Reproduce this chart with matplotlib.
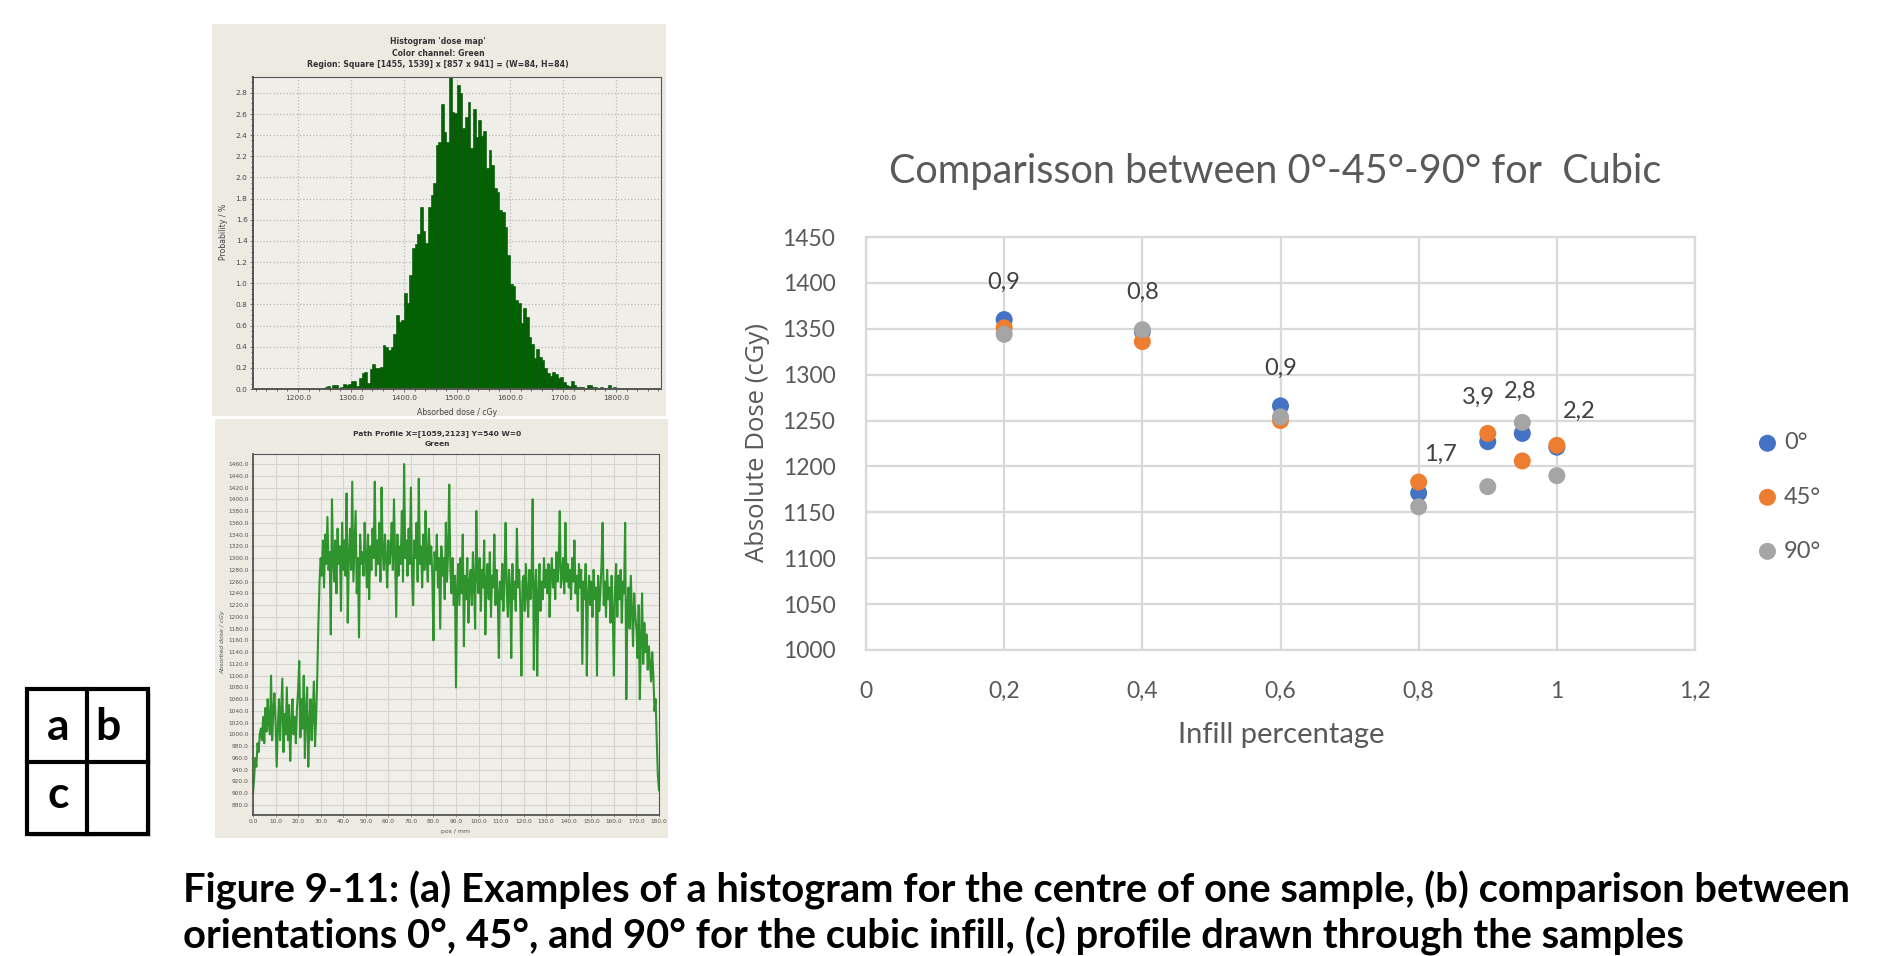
import numpy as np
import matplotlib
matplotlib.use("Agg")
import matplotlib.pyplot as plt
from matplotlib.patches import Rectangle
from matplotlib.lines import Line2D
from matplotlib.ticker import MultipleLocator, FuncFormatter

W, H = 1892, 956

# (a) histogram of the dose map, 5 cGy bins starting at 1240 cGy
hist_start = 1240
hist_bin = 5
hist_prob = [0.00, 0.01, 0.02, 0.03, 0.01, 0.04, 0.04, 0.01, 0.02, 0.05,
             0.04, 0.05, 0.08, 0.08, 0.03, 0.10, 0.15, 0.16, 0.06, 0.19,
             0.24, 0.20, 0.20, 0.21, 0.42, 0.40, 0.37, 0.40, 0.52, 0.70,
             0.63, 0.65, 0.91, 0.81, 1.08, 1.33, 1.37, 1.47, 1.72, 1.49,
             1.38, 1.72, 1.83, 1.95, 2.31, 2.34, 2.69, 2.43, 2.34, 2.96,
             2.62, 2.61, 2.87, 2.80, 2.47, 2.57, 2.71, 2.28, 2.65, 2.38,
             2.54, 2.39, 2.44, 2.09, 2.26, 2.12, 1.90, 1.86, 1.69, 1.67,
             1.53, 1.27, 0.99, 0.97, 0.84, 0.81, 0.62, 0.77, 0.68, 0.49,
             0.43, 0.29, 0.38, 0.30, 0.27, 0.20, 0.15, 0.12, 0.16, 0.14,
             0.10, 0.11, 0.07, 0.04, 0.03, 0.08, 0.04, 0.02, 0.02, 0.02,
             0.01, 0.04, 0.04, 0.02, 0.02, 0.01, 0.02, 0.01, 0.01, 0.04,
             0.01, 0.02, 0.01, 0.00]

# (c) path profile, one value every 0.5 mm from 0 to 180 mm
profile_dose = [
    900, 925, 960, 945, 985, 970, 1000, 1010, 990, 1030, 985, 1045, 1005, 1060, 1020, 1000, 1100, 990, 1040, 1070,
    1020, 945, 1010, 1060, 990, 1045, 1095, 970, 1035, 1000, 1080, 990, 1050, 955, 1020, 1060, 1000, 1030, 985, 1045,
    1075, 1125, 995, 1060, 1010, 1100, 960, 1040, 1080, 945, 1020, 1060, 990, 1035, 1090, 980, 1030, 1100, 1190, 1260,
    1300, 1270, 1330, 1250, 1340, 1290, 1370, 1280, 1310, 1170, 1400, 1300, 1260, 1330, 1240, 1350, 1290, 1320, 1210, 1360,
    1280, 1330, 1270, 1410, 1190, 1300, 1350, 1280, 1430, 1260, 1320, 1380, 1240, 1300, 1165, 1340, 1290, 1310, 1270, 1360,
    1300, 1250, 1340, 1230, 1320, 1280, 1350, 1300, 1430, 1270, 1330, 1290, 1360, 1260, 1420, 1310, 1280, 1340, 1300, 1250,
    1330, 1290, 1310, 1360, 1280, 1400, 1300, 1200, 1340, 1270, 1320, 1290, 1380, 1260, 1460, 1300, 1330, 1270, 1350, 1290,
    1420, 1270, 1220, 1330, 1300, 1360, 1260, 1435, 1290, 1320, 1250, 1340, 1280, 1380, 1300, 1260, 1350, 1290, 1320, 1270,
    1160, 1310, 1280, 1340, 1250, 1300, 1180, 1320, 1270, 1300, 1230, 1360, 1260, 1310, 1425, 1280, 1240, 1300, 1220, 1270,
    1080, 1250, 1290, 1220, 1300, 1240, 1340, 1150, 1270, 1230, 1300, 1190, 1260, 1280, 1220, 1310, 1250, 1180, 1380, 1270,
    1240, 1300, 1210, 1280, 1250, 1330, 1170, 1260, 1290, 1230, 1310, 1200, 1270, 1250, 1340, 1220, 1280, 1240, 1130, 1260,
    1230, 1290, 1210, 1270, 1360, 1240, 1200, 1280, 1250, 1130, 1290, 1230, 1260, 1210, 1350, 1250, 1280, 1220, 1100, 1260,
    1270, 1210, 1290, 1240, 1200, 1280, 1230, 1260, 1400, 1110, 1250, 1280, 1100, 1240, 1290, 1210, 1260, 1230, 1300, 1250,
    1280, 1240, 1290, 1200, 1270, 1300, 1250, 1280, 1230, 1310, 1260, 1290, 1380, 1250, 1270, 1300, 1240, 1360, 1260, 1290,
    1250, 1280, 1230, 1300, 1260, 1330, 1240, 1270, 1210, 1290, 1250, 1280, 1120, 1260, 1230, 1290, 1100, 1240, 1270, 1220,
    1260, 1200, 1280, 1230, 1250, 1100, 1270, 1210, 1240, 1290, 1360, 1220, 1260, 1200, 1280, 1230, 1250, 1190, 1270, 1210,
    1100, 1250, 1290, 1200, 1270, 1230, 1280, 1190, 1260, 1240, 1360, 1060, 1220, 1250, 1180, 1270, 1210, 1150, 1240, 1200,
    1180, 1130, 1220, 1060, 1160, 1240, 1120, 1190, 1140, 1170, 1110, 1150, 1120, 1090, 1140, 1100, 1040, 1060, 990, 930,
    905]

# (b) absolute dose vs infill for the three orientations
infill = [0.2, 0.4, 0.6, 0.8, 0.9, 0.95, 1.0]
dose_0 = [1360, 1347, 1266, 1171, 1227, 1236, 1221]
dose_45 = [1351, 1336, 1250, 1183, 1236, 1206, 1223]
dose_90 = [1344, 1349, 1254, 1156, 1178, 1248, 1190]
series_names = ["0°", "45°", "90°"]
point_labels = ["0,9", "0,8", "0,9", "1,7", "3,9", "2,8", "2,2"]

caption = ["Figure 9-11: (a) Examples of a histogram for the centre of one sample, (b) comparison between",
           "orientations 0°, 45°, and 90° for the cubic infill, (c) profile drawn through the samples"]


def box(l, t, r, b):
    return [l / W, 1 - b / H, (r - l) / W, (b - t) / H]


def fx(px):
    return px / W


def fy(py):
    return 1 - py / H


fig = plt.figure(figsize=(W / 100, H / 100), dpi=100)
fig.patch.set_facecolor("white")

beige = "#EDEAE2"
fig.add_artist(Rectangle((fx(212), fy(416)), 454 / W, 392 / H, transform=fig.transFigure,
                         facecolor=beige, edgecolor="none", zorder=0))
fig.add_artist(Rectangle((fx(215), fy(838)), 453 / W, 419 / H, transform=fig.transFigure,
                         facecolor=beige, edgecolor="none", zorder=0))

# ---- (a) histogram
ax_h = fig.add_axes(box(253, 77, 661, 389))
ax_h.set_facecolor("#F0EEE8")
edges = hist_start + hist_bin * np.arange(len(hist_prob))
ax_h.bar(edges, hist_prob, width=hist_bin, align="edge", color="#006400",
         edgecolor="#004A00", linewidth=0.4, zorder=2)
ax_h.set_xlim(1115, 1885)
ax_h.set_ylim(0, 2.95)
ax_h.xaxis.set_major_locator(MultipleLocator(100))
ax_h.xaxis.set_minor_locator(MultipleLocator(20))
ax_h.yaxis.set_major_locator(MultipleLocator(0.2))
ax_h.yaxis.set_minor_locator(MultipleLocator(0.05))
ax_h.xaxis.set_major_formatter(FuncFormatter(lambda v, p: "%.1f" % v))
ax_h.yaxis.set_major_formatter(FuncFormatter(lambda v, p: "%.1f" % v))
ax_h.grid(True, color="#B8B8B8", linestyle=":", linewidth=0.9, zorder=0)
ax_h.tick_params(labelsize=5.3, colors="#444444", length=2, width=0.5, pad=2)
ax_h.tick_params(which="minor", length=1.2, width=0.4)
for s in ax_h.spines.values():
    s.set_color("#555555")
    s.set_linewidth(0.8)
ax_h.spines["left"].set_linewidth(1.4)
ax_h.spines["bottom"].set_linewidth(1.4)
ax_h.set_axisbelow(True)
for i, t in enumerate(["Histogram 'dose map'", "Color channel: Green",
                       "Region: Square [1455, 1539] x [857 x 941] = (W=84, H=84)"]):
    fig.text(fx(438), fy(42 + 11.2 * i), t, ha="center", va="center", fontsize=5.6,
             fontweight="bold", color="#333333")
fig.text(fx(457), fy(412), "Absorbed dose / cGy", ha="center", va="center", fontsize=5.6, color="#444444")
fig.text(fx(223), fy(232), "Probability / %", ha="center", va="center", rotation=90,
         fontsize=5.6, color="#444444")

# ---- (c) profile
ax_p = fig.add_axes(box(253, 454, 659, 815))
ax_p.set_facecolor("#F0EEE8")
pos_mm = np.linspace(0, 180, len(profile_dose))
ax_p.plot(pos_mm, profile_dose, color="#1A8A1A", linewidth=1.5, alpha=0.9, zorder=2)
ax_p.set_xlim(0, 180)
ax_p.set_ylim(863, 1477)
ax_p.xaxis.set_major_locator(MultipleLocator(10))
ax_p.yaxis.set_major_locator(MultipleLocator(20))
ax_p.xaxis.set_major_formatter(FuncFormatter(lambda v, p: "%.1f" % v))
ax_p.yaxis.set_major_formatter(FuncFormatter(lambda v, p: "%.1f" % v))
ax_p.grid(True, color="#D6D3CC", linewidth=0.8, zorder=0)
ax_p.tick_params(labelsize=4.2, colors="#555555", length=1.5, width=0.4, pad=1.5)
for s in ax_p.spines.values():
    s.set_color("#555555")
    s.set_linewidth(0.8)
ax_p.spines["left"].set_linewidth(1.3)
ax_p.spines["bottom"].set_linewidth(1.3)
ax_p.set_axisbelow(True)
fig.text(fx(437), fy(434), "Path Profile X=[1059,2123] Y=540 W=0", ha="center", va="center",
         fontsize=5.4, fontweight="bold", color="#333333")
fig.text(fx(437), fy(444.5), "Green", ha="center", va="center", fontsize=5.4,
         fontweight="bold", color="#333333")
fig.text(fx(455), fy(831), "pos / mm", ha="center", va="center", fontsize=4.4, color="#555555")
fig.text(fx(223), fy(642), "Absorbed dose / cGy", ha="center", va="center", rotation=90,
         fontsize=4.4, color="#555555", style="italic")

# ---- (b) scatter comparison
grey_txt = "#595959"
ax_s = fig.add_axes(box(866, 237, 1695, 650))
colors = ["#4472C4", "#ED7D31", "#A5A5A5"]
for vals, c, name in zip([dose_0, dose_45, dose_90], colors, series_names):
    ax_s.scatter(infill, vals, s=150, color=c, edgecolors="none", zorder=3, label=name)
ax_s.set_xlim(0, 1.2)
ax_s.set_ylim(1000, 1450)
ax_s.xaxis.set_major_locator(MultipleLocator(0.2))
ax_s.yaxis.set_major_locator(MultipleLocator(50))
ax_s.xaxis.set_major_formatter(FuncFormatter(lambda v, p: ("%g" % round(v, 2)).replace(".", ",")))
ax_s.grid(True, color="#D9D9D9", linewidth=1.6, zorder=0)
for s in ax_s.spines.values():
    s.set_color("#D9D9D9")
    s.set_linewidth(1.6)
ax_s.tick_params(length=0, labelsize=16.5, labelcolor=grey_txt)
ax_s.tick_params(axis="x", pad=22)
ax_s.tick_params(axis="y", pad=22)
for lab in ax_s.get_xticklabels() + ax_s.get_yticklabels():
    lab.set_fontfamily("Lato")

label_dx = [0, 0, 0, 22, -9, -2, 22]
label_dy = [37, 37, 38, 28, 36, 31, 34]
tops = [max(a, b, c) for a, b, c in zip(dose_0, dose_45, dose_90)]
for x, top, txt, dx, dy in zip(infill, tops, point_labels, label_dx, label_dy):
    ax_s.annotate(txt, (x, top), xytext=(dx / 1.389, dy / 1.389), textcoords="offset points",
                  ha="center", va="center", fontsize=17, color="#404040", family="Lato")

leg = ax_s.legend(loc="center left", bbox_to_anchor=(fx(1758), fy(497)),
                  bbox_transform=fig.transFigure, frameon=False, prop={"family": "Lato", "size": 17},
                  handlelength=0.8, handletextpad=0.3, labelspacing=1.4, borderpad=0, borderaxespad=0,
                  markerscale=1.0)
for t in leg.get_texts():
    t.set_color(grey_txt)

fig.text(fx(1275), fy(172), "Comparisson between 0°-45°-90° for  Cubic", ha="center", va="center",
         fontsize=28.5, color=grey_txt, family="Lato")
fig.text(fx(1281), fy(735), "Infill percentage", ha="center", va="center", fontsize=21,
         color=grey_txt, family="Lato")
fig.text(fx(757), fy(443), "Absolute Dose (cGy)", ha="center", va="center", rotation=90,
         fontsize=18.5, color=grey_txt, family="Open Sans")

# ---- a/b/c key
lw_key = 3.0
fig.add_artist(Rectangle((fx(30), fy(837)), 121 / W, 145 / H, transform=fig.transFigure,
                         facecolor="#BBBBBB", edgecolor="none", alpha=0.5, zorder=1))
fig.add_artist(Rectangle((fx(27), fy(834)), 121 / W, 145 / H, transform=fig.transFigure,
                         facecolor="white", edgecolor="black", linewidth=lw_key, zorder=2))
fig.add_artist(Line2D([fx(87), fx(87)], [fy(689), fy(834)], transform=fig.transFigure,
                      color="black", linewidth=lw_key, zorder=3))
fig.add_artist(Line2D([fx(27), fx(148)], [fy(762), fy(762)], transform=fig.transFigure,
                      color="black", linewidth=lw_key, zorder=3))
for (px, py), ch in zip([(58, 727), (108, 727), (58, 795)], ["a", "b", "c"]):
    fig.text(fx(px), fy(py), ch, ha="center", va="center", fontsize=32, fontweight="bold",
             family="Lato", zorder=4)

# ---- caption, scaled to the printed line width
cap1 = fig.text(fx(183), fy(890), caption[0], ha="left", va="center", fontsize=24,
                fontweight="bold", family="Lato")
cap2 = fig.text(fx(183), fy(936), caption[1], ha="left", va="center", fontsize=24,
                fontweight="bold", family="Lato")
fig.canvas.draw()
w1 = cap1.get_window_extent(fig.canvas.get_renderer()).width
cap1.set_fontsize(24 * 1669 / w1)
cap2.set_fontsize(24 * 1669 / w1)

fig.savefig("out.png", dpi=100)
